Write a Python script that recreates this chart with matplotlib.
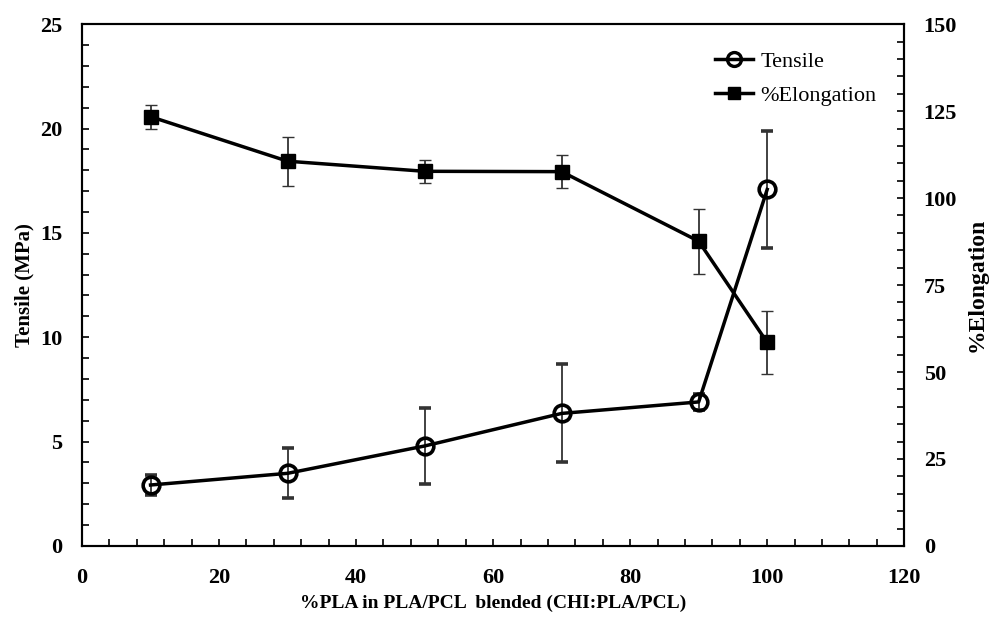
import numpy as np
import matplotlib.pyplot as plt
from matplotlib.ticker import MultipleLocator
from matplotlib.lines import Line2D

# data
pla = [10, 30, 50, 70, 90, 100]
tensile = [2.92, 3.48, 4.79, 6.35, 6.9, 17.08]
tensile_err = [0.5, 1.2, 1.8, 2.35, 0.4, 2.8]
elong = [123.4, 110.6, 107.7, 107.6, 87.6, 58.5]
elong_err = [3.5, 7.1, 3.3, 4.7, 9.3, 9.1]

plt.rcParams['font.family'] = ['Liberation Serif', 'DejaVu Serif']

fig = plt.figure(figsize=(9.93, 6.19), dpi=100)
ax = fig.add_axes([0.0826, 0.118, 0.828, 0.843])
ax2 = ax.twinx()

ebar = dict(ecolor='#333333', elinewidth=1.3, capsize=4, capthick=1.0)
ax.errorbar(pla, tensile, yerr=tensile_err, color='black', lw=2.5,
            marker='o', ms=12, mfc='none', mec='black', mew=2.6, **ebar)
ax2.errorbar(pla, elong, yerr=elong_err, color='black', lw=2.5,
             marker='s', ms=10, mfc='black', mec='black', **ebar)

ax.set_xlim(0, 120)
ax.set_ylim(0, 25)
ax2.set_ylim(0, 150)
ax.xaxis.set_major_locator(MultipleLocator(20))
ax.xaxis.set_minor_locator(MultipleLocator(4))
ax.yaxis.set_major_locator(MultipleLocator(5))
ax.yaxis.set_minor_locator(MultipleLocator(1))
ax2.yaxis.set_major_locator(MultipleLocator(25))
ax2.yaxis.set_minor_locator(MultipleLocator(5))

for a in (ax, ax2):
    for s in a.spines.values():
        s.set_linewidth(1.5)
    a.tick_params(which='both', direction='in', length=5, width=1.2,
                  labelsize=16, pad=14)
    for lab in a.get_xticklabels() + a.get_yticklabels():
        lab.set_fontweight('bold')
ax.tick_params(axis='x', pad=16)

ax.set_xlabel('%PLA in PLA/PCL  blended (CHI:PLA/PCL)', fontsize=14,
              fontweight='bold', labelpad=5)
ax.set_ylabel('Tensile (MPa)', fontsize=15, fontweight='bold', labelpad=4)
ax2.set_ylabel('%Elongation', fontsize=17, fontweight='bold', labelpad=7)

handles = [
    Line2D([], [], color='black', lw=2.5, marker='o', ms=10, mfc='none', mew=2.4),
    Line2D([], [], color='black', lw=2.5, marker='s', ms=9, mfc='black'),
]
ax2.legend(handles, ['Tensile', '%Elongation'], loc='upper left',
           bbox_to_anchor=(0.745, 0.986), frameon=False, fontsize=16,
           handlelength=1.75, handletextpad=0.3, labelspacing=0.6)

fig.savefig('out.png', dpi=100)
